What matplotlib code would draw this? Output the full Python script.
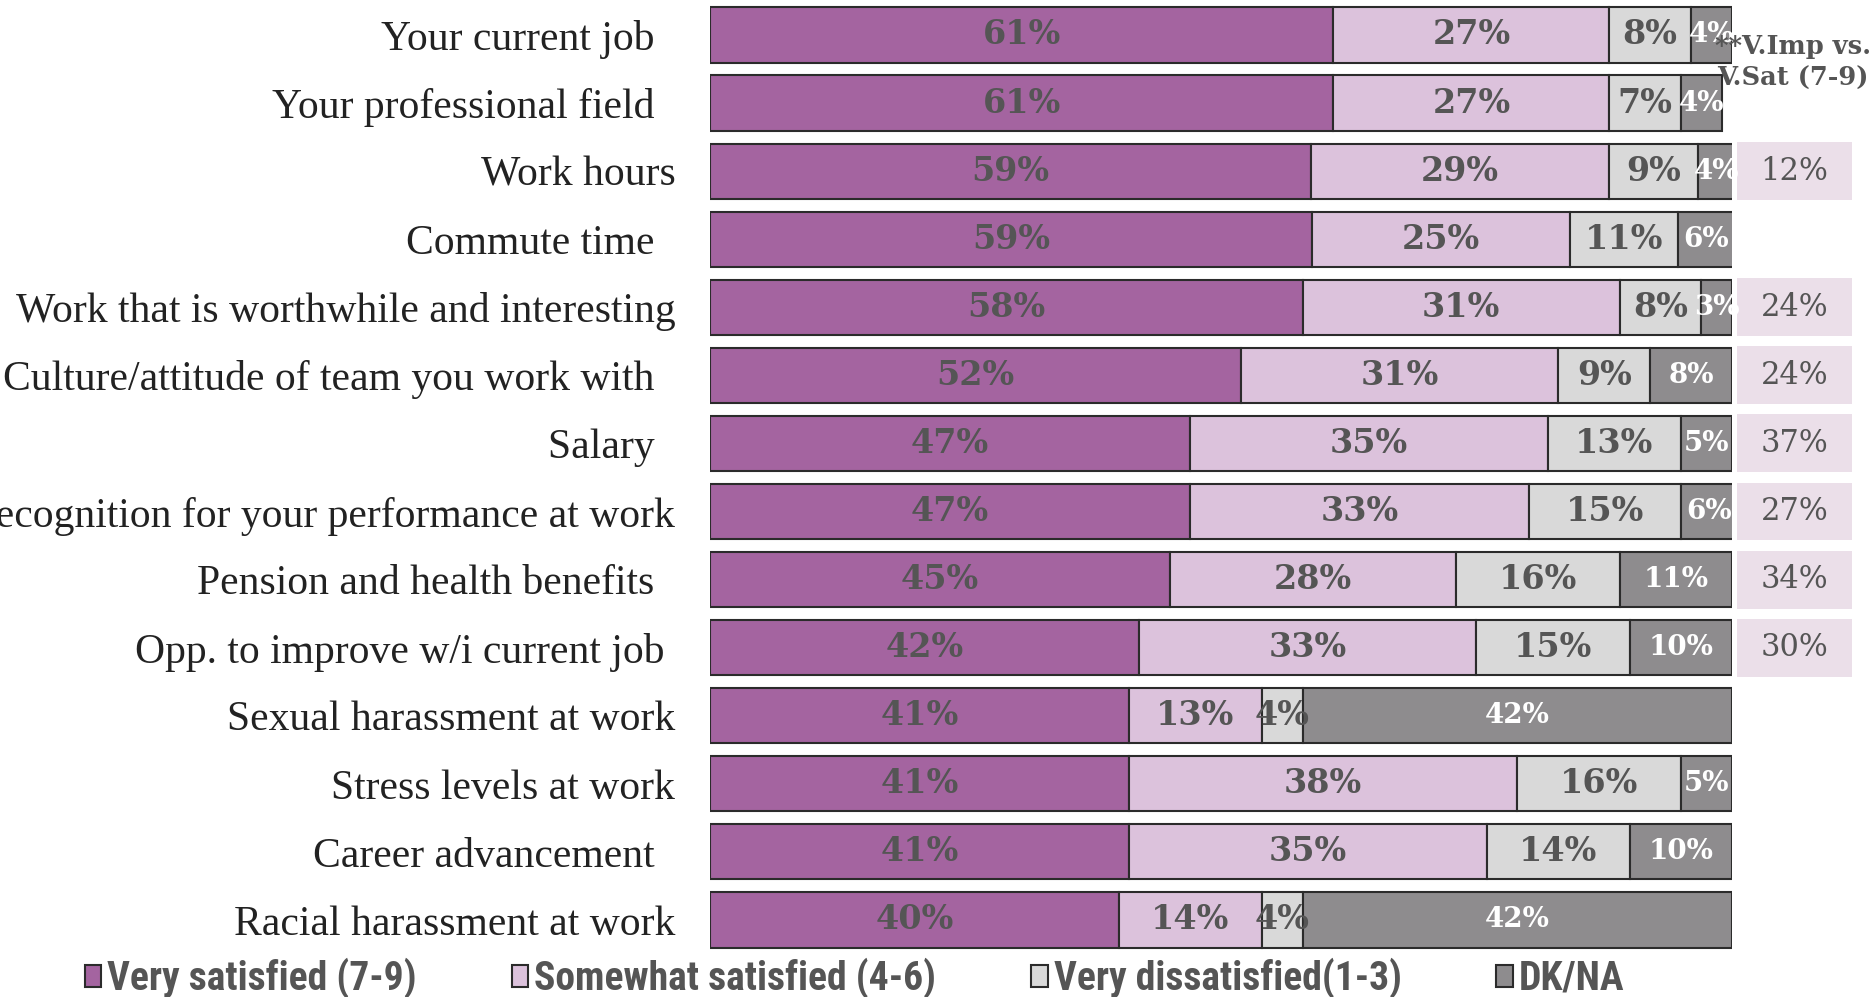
import matplotlib.pyplot as plt
from matplotlib.patches import Patch
import numpy as np

categories = [
    "Your current job  ",
    "Your professional field  ",
    "Work hours",
    "Commute time  ",
    "Work that is worthwhile and interesting",
    "Culture/attitude of team you work with  ",
    "Salary  ",
    "Recognition for your performance at work",
    "Pension and health benefits  ",
    "Opp. to improve w/i current job ",
    "Sexual harassment at work",
    "Stress levels at work",
    "Career advancement  ",
    "Racial harassment at work",
]

very_sat = [61, 61, 58.8, 58.9, 58, 52, 47, 47, 45, 42, 41, 41, 41, 40]
somewhat_sat = [27, 27, 29.2, 25.2, 31, 31, 35, 33.1, 28, 33, 13, 38, 35, 14]
very_dissat = [8, 7, 8.7, 10.6, 8, 9, 13, 14.9, 16, 15, 4, 16, 14, 4]
dk_na = [4, 4, 3.6, 5.6, 3, 8, 5, 5.6, 11, 10, 42, 5, 10, 42]

# **V.Imp vs. V.Sat (7-9) gap, None where no value shown
imp_gap = [None, None, 12, None, 24, 24, 37, 27, 34, 30, None, None, None, None]

series = {
    "Very satisfied (7-9)": very_sat,
    "Somewhat satisfied (4-6)": somewhat_sat,
    "Very dissatisfied(1-3)": very_dissat,
    "DK/NA": dk_na,
}
colors = ["#a464a0", "#dcc2dc", "#d9d9d9", "#8e8c8e"]
text_colors = ["#555555", "#555555", "#555555", "white"]
text_sizes = [24, 24, 24, 20]

serif = ["Liberation Serif", "DejaVu Serif"]
narrow = ["Liberation Sans Narrow", "DejaVu Sans Condensed", "Roboto Condensed", "Roboto", "DejaVu Sans"]

fig = plt.figure(figsize=(18.74, 9.97), dpi=100)
ax = fig.add_axes([710 / 1874, 0.0431, 1022 / 1874, 0.956])

y = np.arange(len(categories))
left = np.zeros(len(categories))
handles = []
for i, (name, vals) in enumerate(series.items()):
    vals = np.array(vals, dtype=float)
    rects = ax.barh(y, vals, left=left, height=0.81, color=colors[i],
                    edgecolor="#2b2b2b", linewidth=1.5)
    for r, v in zip(rects, vals):
        ax.text(r.get_x() + r.get_width() / 2, r.get_y() + r.get_height() / 2,
                f"{v:.0f}%", ha="center", va="center", color=text_colors[i],
                fontsize=text_sizes[i], fontweight="bold", family="DejaVu Serif")
    left += vals
    handles.append(Patch(facecolor=colors[i], edgecolor="#2b2b2b", linewidth=1.5, label=name))

# right column
for yi, g in zip(y, imp_gap):
    if g is None:
        continue
    ax.barh(yi, 11.2, left=100.5, height=0.85, color="#ebdfe9", clip_on=False)
    ax.text(106.1, yi, f"{g}%", ha="center", va="center", color="#555555",
            fontsize=22, family="DejaVu Serif", clip_on=False)
ax.text(106.0, 0.41, "**V.Imp vs.\nV.Sat (7-9)", ha="center", va="center",
        color="#555555", fontsize=18.5, fontweight="bold", family="DejaVu Serif",
        linespacing=1.35)

ax.set_xlim(0, 100)
ax.set_ylim(13.5, -0.5)
ax.set_yticks(y, categories)
ax.tick_params(axis="y", length=0, pad=25, labelsize=30, labelcolor="#222222")
for lbl in ax.get_yticklabels():
    lbl.set_family(serif)
ax.set_xticks([])
for s in ax.spines.values():
    s.set_visible(False)

fig.legend(handles=handles, loc="center", bbox_to_anchor=(0.456, 0.019), ncol=4,
           frameon=False, handlelength=0.42, handleheight=0.48, handletextpad=0.15,
           columnspacing=2.4, borderaxespad=0,
           prop={"family": narrow, "weight": "bold", "size": 28.5},
           labelcolor="#555555")

plt.savefig("out.png", dpi=100)
